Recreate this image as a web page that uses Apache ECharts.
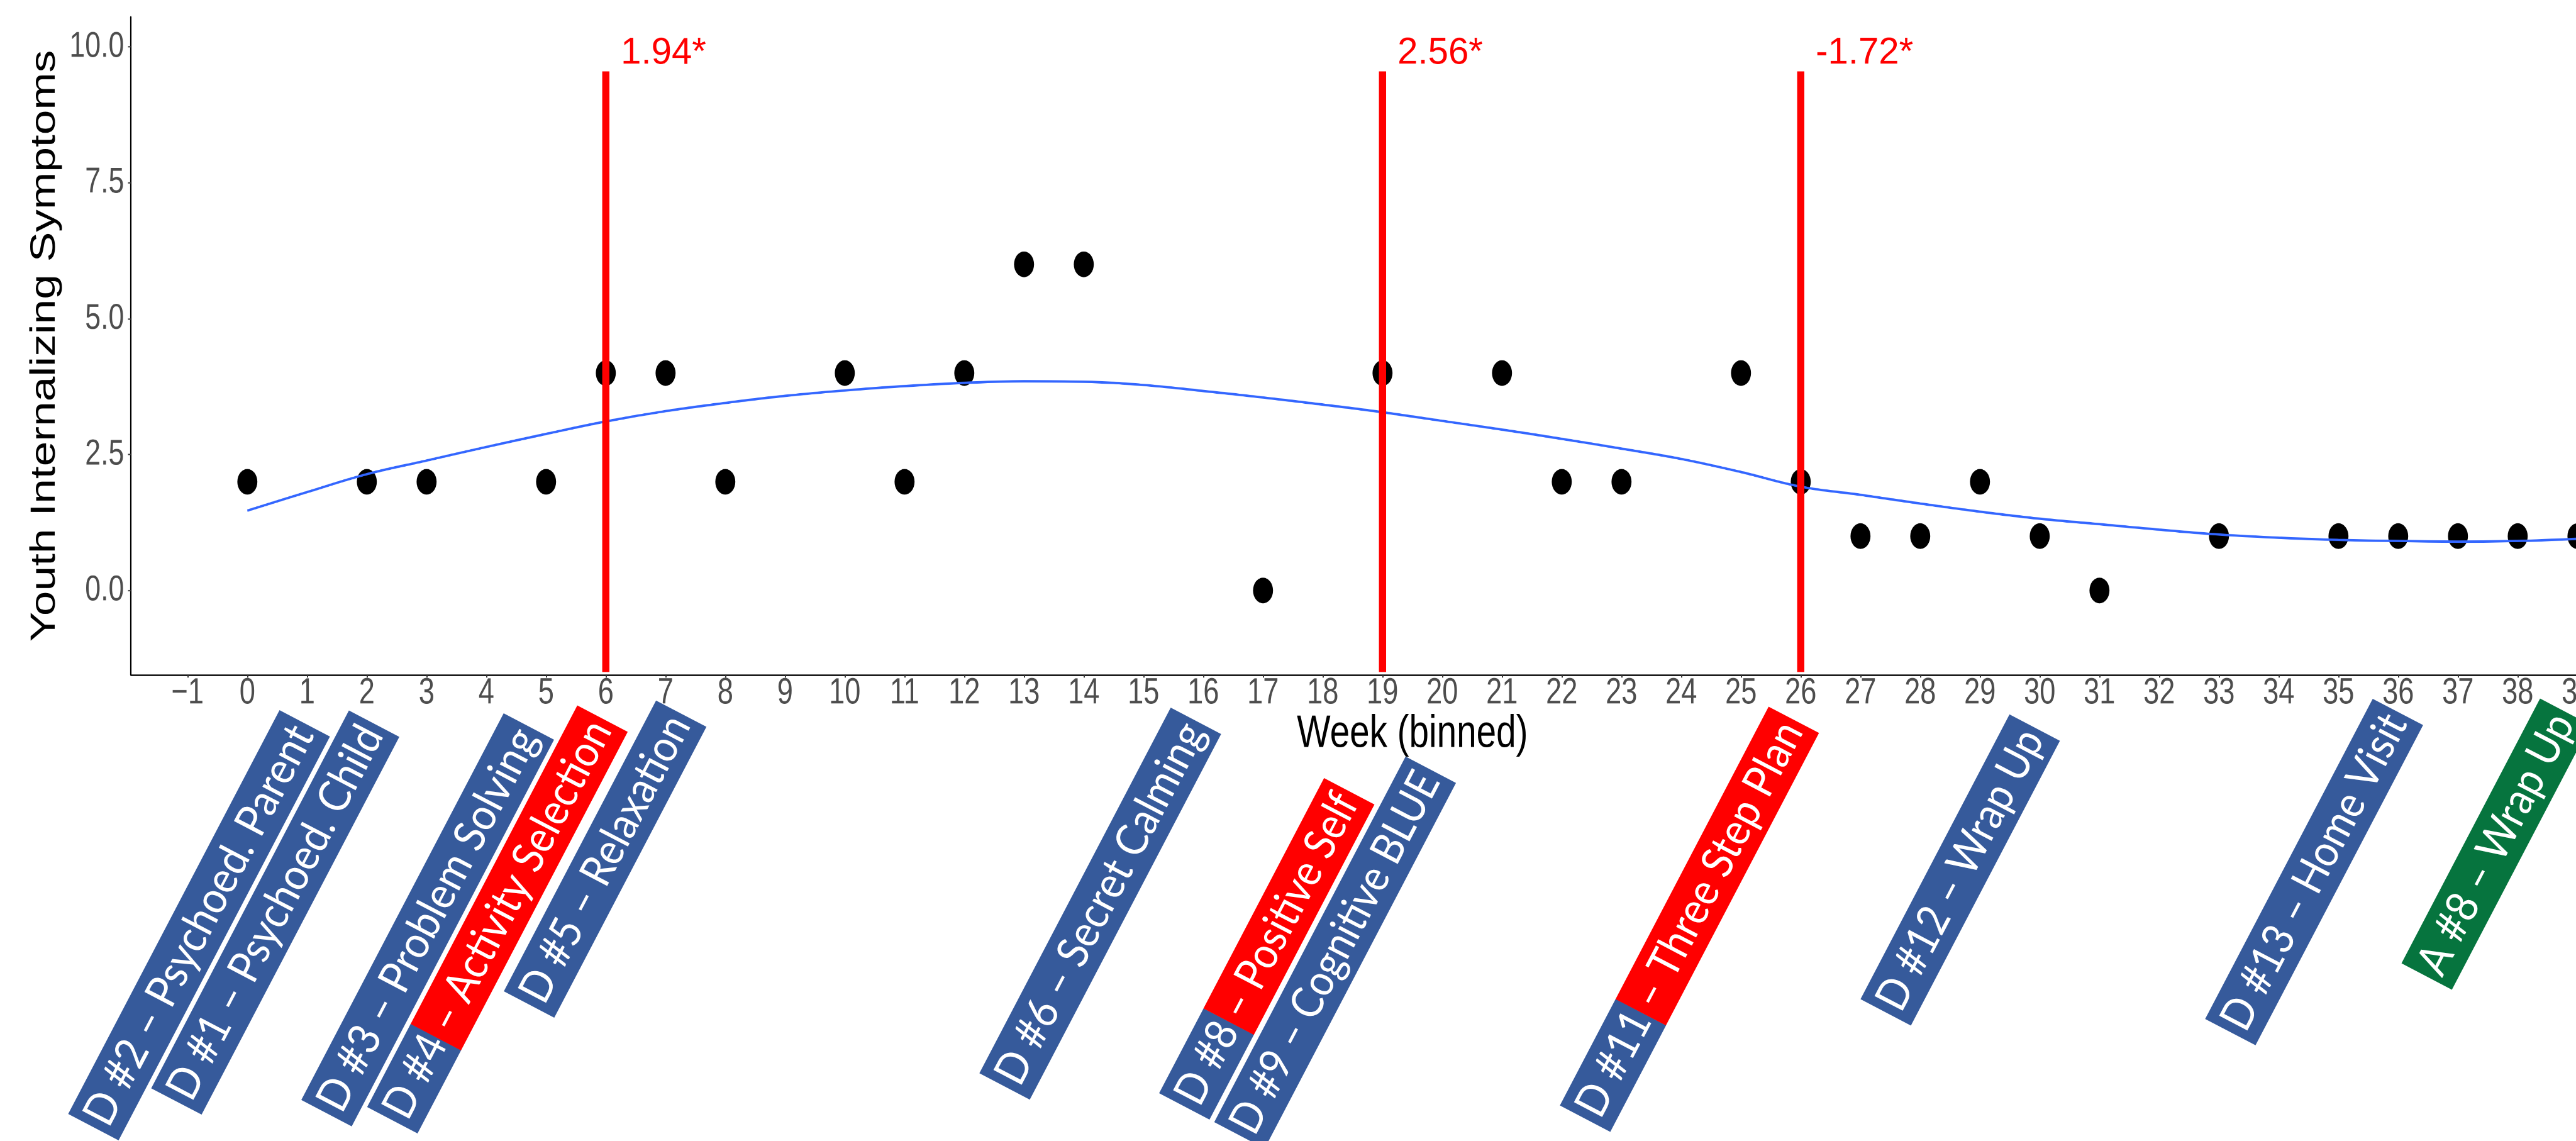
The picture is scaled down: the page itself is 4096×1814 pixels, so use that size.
<!DOCTYPE html>
<html>
<head>
<meta charset="utf-8">
<script src="https://cdn.jsdelivr.net/npm/echarts@6/dist/echarts.min.js"></script>
<style>
html,body{margin:0;padding:0;background:#ffffff;overflow:hidden;width:4096px;height:1814px;}
#plot{position:absolute;left:0;top:0;width:4096px;height:1416px;transform-origin:0 0;transform:scaleY(1.281073);}
#notes{position:absolute;left:0;top:0;width:4096px;height:1814px;}
</style>
</head>
<body>
<div id="plot"></div>
<div id="notes"></div>
<script>
// ---------------- DATA ----------------
const weeks    = [0, 2, 3, 5, 6, 7, 8, 10, 11, 12, 13, 14, 17, 19, 21, 22, 23, 25, 26, 27, 28, 29, 30, 31, 33, 35, 36, 37, 38, 39];
const symptoms = [2, 2, 2, 2, 4, 4, 2, 4, 2, 4, 6, 6, 0, 4, 4, 2, 2, 4, 2, 1, 1, 2, 1, 0, 1, 1, 1, 1, 1, 1];

const smoothWeeks  = [0,1,2,3,4,5,6,7,8,9,10,11,12,13,14,15,16,17,18,19,20,21,22,23,24,25,26,27,28,29,30,31,32,33,34,35,36,37,38,39];
const smoothValues = [1.47,1.81,2.14,2.39,2.64,2.88,3.11,3.30,3.45,3.58,3.68,3.76,3.82,3.85,3.84,3.78,3.67,3.55,3.42,3.28,3.12,2.96,2.79,2.61,2.42,2.18,1.91,1.76,1.60,1.45,1.32,1.22,1.12,1.03,0.97,0.93,0.91,0.90,0.91,0.95];

const changeWeeks  = [6, 19, 26];
const changeLabels = ['1.94*', '2.56*', '-1.72*'];

const xTickValues = [-1,0,1,2,3,4,5,6,7,8,9,10,11,12,13,14,15,16,17,18,19,20,21,22,23,24,25,26,27,28,29,30,31,32,33,34,35,36,37,38,39,40];
const yTickValues = [0, 2.5, 5, 7.5, 10];

const sessionLabels = [
  'D #2 \u2013 Psychoed. Parent',
  'D #1 \u2013 Psychoed. Child',
  'D #3 \u2013 Problem Solving',
  'D #4 \u2013 Activity Selection',
  'D #5 \u2013 Relaxation',
  'D #6 \u2013 Secret Calming',
  'D #8 \u2013 Positive Self',
  'D #9 \u2013 Cognitive BLUE',
  'D #11 \u2013 Three Step Plan',
  'D #12 \u2013 Wrap Up',
  'D #13 \u2013 Home Visit',
  'A #8 \u2013 Wrap Up'
];
const sessionKind      = ['D','D','D','D','D','D','D','D','D','D','D','A'];
const sessionHighlight = [false,false,false,true,false,false,true,false,true,false,false,false];

// ---------------- LAYOUT / STYLE ----------------
const S  = 0.994;               // reference -> window scale
const K  = 1814 / 1416;         // vertical stretch of the plot (as in the reference image)
const SX = S;                   // horizontal factor inside the plot canvas
const SY = S / K;               // vertical factor inside the (stretched) plot canvas

const ANG = 62.37 * Math.PI / 180;
const BOX_W = 91;
const kindColor = { D: '#365A9B', A: '#06743E' };
const highlightColor = '#FF0000';
// anchor = lowest corner of each rotated box (start of text, baseline side), reference px
const boxLayout = [
  {x:189.7,  y:1824.0, len:729},
  {x:322.5,  y:1782.8, len:682},
  {x:562.6,  y:1801.5, len:698},
  {x:667.9,  y:1812.9, len:725, split:150},
  {x:886.6,  y:1627.7, len:525},
  {x:1647.3, y:1758.7, len:660},
  {x:1934.8, y:1790.8, len:569, split:153},
  {x:2023.0, y:1837.0, len:660},
  {x:2575.9, y:1810.3, len:720, split:192},
  {x:3056.8, y:1640.3, len:514},
  {x:3608.1, y:1671.9, len:578},
  {x:3922.2, y:1583.0, len:478}
];

const measureCtx = document.createElement('canvas').getContext('2d');
function textWidth(txt, font) { measureCtx.font = font; return measureCtx.measureText(txt).width; }

// ---------------- PLOT (stretched vertically like the reference) ----------------
const gridLeft = 209.3, gridRight = 4309.4, gridTop = 27.2, gridBottom = 1079.2;
const AX_FONT = '"Liberation Sans", Arial, Helvetica, sans-serif';

const plot = echarts.init(document.getElementById('plot'), null, {renderer:'canvas', devicePixelRatio: 2});
plot.setOption({
  backgroundColor: '#FFFFFF',
  animation: false,
  grid: {
    left: gridLeft * SX, top: gridTop * SY,
    width: (gridRight - gridLeft) * SX, height: (gridBottom - gridTop) * SY,
    containLabel: false, outerBoundsMode: 'none'
  },
  xAxis: {
    type: 'value', min: -1.95, max: 40.95,
    name: 'Week (binned)', nameLocation: 'middle', nameGap: 95.3 * SY, nameMoveOverlap: false,
    nameTextStyle: {fontFamily: AX_FONT, fontSize: 57 * S, color: '#000000', align: 'center', verticalAlign: 'middle'},
    axisLine: {show: true, onZero: false, lineStyle: {color: '#000000', width: 2.2 * SY}},
    axisTick: {show: true, customValues: xTickValues, length: 4.5 * SY, lineStyle: {color: '#333333', width: 2 * SX}},
    axisLabel: {show: true, customValues: xTickValues, margin: 30 * SY, color: '#4D4D4D', verticalAlign: 'middle',
      fontFamily: AX_FONT, fontSize: 45.5 * S,
      formatter: v => (v < 0 ? '\u2212' + Math.abs(v) : String(v)), hideOverlap: false},
    splitLine: {show: false}
  },
  yAxis: {
    type: 'value', min: -1.55, max: 10.55,
    name: 'Youth Internalizing Symptoms', nameLocation: 'middle', nameRotate: 90, nameGap: 137.1 * SX, nameMoveOverlap: false,
    nameTextStyle: {fontFamily: AX_FONT, fontSize: 56 * S, color: '#000000', align: 'center', verticalAlign: 'middle'},
    axisLine: {show: true, onZero: false, lineStyle: {color: '#000000', width: 2.2 * SX}},
    axisTick: {show: true, customValues: yTickValues, length: 4.5 * SX, lineStyle: {color: '#333333', width: 2 * SY}},
    axisLabel: {show: true, customValues: yTickValues, margin: 10.7 * SX, color: '#4D4D4D',
      fontFamily: AX_FONT, fontSize: 45 * S,
      formatter: v => v.toFixed(1), hideOverlap: false},
    splitLine: {show: false}
  },
  series: [
    {
      type: 'scatter', z: 2,
      data: weeks.map((w, i) => [w, symptoms[i]]),
      symbol: 'circle', symbolSize: [32 * SX, 41 * SY],
      itemStyle: {color: '#000000', opacity: 1},
      emphasis: {disabled: true}
    },
    {
      type: 'line', z: 3, smooth: 0.4, showSymbol: false, clip: false,
      data: smoothWeeks.map((w, i) => [w, smoothValues[i]]),
      lineStyle: {color: '#3366FF', width: 3.0 * S},
      emphasis: {disabled: true}
    },
    {
      type: 'custom', z: 4,
      data: changeWeeks.map((w) => [w, 9.55]),
      encode: {x: 0, y: 1},
      renderItem: function (params, api) {
        const wk = api.value(0);
        const top = api.coord([wk, 9.55]);
        const bot = api.coord([wk, -1.5]);
        const lab = api.coord([wk, 9.88]);
        return {
          type: 'group',
          children: [
            {type: 'line', shape: {x1: bot[0], y1: bot[1], x2: top[0], y2: top[1]},
             style: {stroke: '#FF0000', lineWidth: 11.5 * SX, lineCap: 'butt'}},
            {type: 'text', x: lab[0] + 24 * SX, y: lab[1], scaleY: 0.80,
             style: {text: changeLabels[params.dataIndex], fill: '#FF0000',
               font: (58.5 * S) + 'px ' + AX_FONT,
               align: 'left', verticalAlign: 'middle'}}
          ]
        };
      }
    }
  ]
});

// ---------------- SESSION LABEL BOXES (not stretched) ----------------
const BOX_FS = 71 * S;
const boxFont = BOX_FS + 'px Lato, "Open Sans", sans-serif';
const boxGraphics = sessionLabels.map((lab, i) => {
  const L = boxLayout[i];
  const len = L.len * S, w = BOX_W * S;
  const base = kindColor[sessionKind[i]];
  const children = [];
  if (sessionHighlight[i]) {
    const sp = L.split * S;
    children.push({type:'rect', shape:{x:0, y:-w, width:sp + 0.5, height:w}, style:{fill:base}});
    children.push({type:'rect', shape:{x:sp, y:-w, width:len - sp, height:w}, style:{fill:highlightColor}});
  } else {
    children.push({type:'rect', shape:{x:0, y:-w, width:len, height:w}, style:{fill:base}});
  }
  const pad = 9 * S;
  const tw = textWidth(lab, boxFont);
  const sc = (len - 2 * pad) / tw;
  children.push({type:'text', x:pad, y:-w / 2, scaleX:sc, scaleY:1,
    style:{text:lab, font:boxFont, fill:'#FFFFFF', align:'left', verticalAlign:'middle'}});
  return {type:'group', x:L.x * S, y:L.y * S, rotation:ANG, z:100, children};
});

const notes = echarts.init(document.getElementById('notes'), null, {renderer:'canvas'});
notes.setOption({
  backgroundColor: 'transparent',
  animation: false,
  graphic: boxGraphics
});
</script>
</body>
</html>
